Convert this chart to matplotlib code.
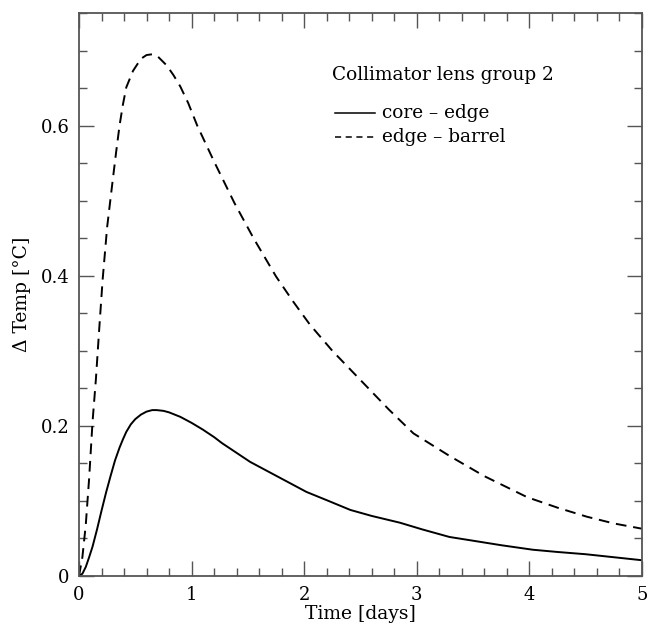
import matplotlib
matplotlib.use("Agg")
import matplotlib.pyplot as plt
from matplotlib.ticker import MultipleLocator, FixedFormatter, FixedLocator

# ---- data ----
time_barrel = [0, 0.03, 0.06, 0.09, 0.12, 0.15, 0.18, 0.21, 0.25, 0.30, 0.33, 0.36,
               0.39, 0.42, 0.48, 0.55, 0.60, 0.65, 0.70, 0.78, 0.84, 0.90, 0.97,
               1.05, 1.20, 1.38, 1.55, 1.75, 1.90, 2.05, 2.25, 2.50, 2.75, 2.97,
               3.29, 3.60, 3.98, 4.25, 4.51, 4.75, 5.00]
edge_barrel = [0, 0.025, 0.068, 0.130, 0.205, 0.262, 0.330, 0.395, 0.465, 0.528, 0.565, 0.600,
               0.628, 0.651, 0.673, 0.689, 0.694, 0.695, 0.692, 0.680, 0.667, 0.652, 0.630,
               0.600, 0.552, 0.497, 0.450, 0.399, 0.366, 0.335, 0.300, 0.261, 0.222, 0.190,
               0.160, 0.133, 0.105, 0.091, 0.079, 0.070, 0.063]

time_core = [0, 0.03, 0.06, 0.09, 0.12, 0.16, 0.20, 0.24, 0.28, 0.32, 0.36, 0.39, 0.42,
             0.46, 0.50, 0.55, 0.60, 0.65, 0.69, 0.75, 0.80, 0.85, 0.90, 1.00, 1.10,
             1.20, 1.27, 1.40, 1.52, 1.77, 2.02, 2.20, 2.41, 2.60, 2.85, 3.05, 3.29,
             3.50, 3.75, 4.03, 4.25, 4.50, 4.75, 5.00]
core_edge = [0, 0.003, 0.012, 0.025, 0.039, 0.062, 0.087, 0.111, 0.133, 0.154, 0.171, 0.182,
             0.192, 0.202, 0.209, 0.215, 0.219, 0.221, 0.221, 0.220, 0.218, 0.215, 0.212,
             0.204, 0.195, 0.185, 0.177, 0.164, 0.152, 0.132, 0.112, 0.101, 0.088, 0.080,
             0.071, 0.062, 0.052, 0.047, 0.041, 0.035, 0.032, 0.029, 0.025, 0.021]

x_ticks = [0, 1, 2, 3, 4, 5]
x_labels = ["0", "1", "2", "3", "4", "5"]
y_ticks = [0, 0.2, 0.4, 0.6]
y_labels = ["0", "0.2", "0.4", "0.6"]

title_text = "Collimator lens group 2"
series_labels = ["core \u2013 edge", "edge \u2013 barrel"]

plt.rcParams['font.family'] = ['DejaVu Serif']

fig = plt.figure(figsize=(6.49, 6.26), dpi=100)
ax = fig.add_axes([79/649, 50/626, 563/649, 563/626])

ax.plot(time_core, core_edge, color='black', lw=1.4, ls='-')
ax.plot(time_barrel, edge_barrel, color='black', lw=1.4, ls=(0, (5.5, 3.5)))

ax.set_xlim(0, 5)
ax.set_ylim(0, 0.75)

ax.xaxis.set_major_locator(FixedLocator(x_ticks))
ax.xaxis.set_major_formatter(FixedFormatter(x_labels))
ax.yaxis.set_major_locator(FixedLocator(y_ticks))
ax.yaxis.set_major_formatter(FixedFormatter(y_labels))
ax.xaxis.set_minor_locator(MultipleLocator(0.2))
ax.yaxis.set_minor_locator(MultipleLocator(0.05))

ax.tick_params(which='both', direction='in', top=True, right=True, color='#555555',
               labelsize=13, width=1.0)
ax.tick_params(which='major', length=11, pad=7)
ax.tick_params(which='minor', length=6)
for s in ax.spines.values():
    s.set_linewidth(1.3)
    s.set_color('#555555')

ax.set_xlabel("Time [days]", fontsize=13.5, labelpad=1)
ax.set_ylabel("\u0394 Temp [\u00b0C]", fontsize=13.5, labelpad=7)

# annotation block (title + legend key)
ax.text(0.450, 0.89, title_text, transform=ax.transAxes, fontsize=13.3,
        va='center', ha='left')
ax.plot([0.455, 0.525], [0.822, 0.822], transform=ax.transAxes, color='black', lw=1.1)
ax.plot([0.455, 0.525], [0.779, 0.779], transform=ax.transAxes, color='black', lw=1.1,
        ls=(0, (4, 3)))
ax.text(0.538, 0.822, series_labels[0], transform=ax.transAxes, fontsize=13.3,
        va='center', ha='left')
ax.text(0.538, 0.779, series_labels[1], transform=ax.transAxes, fontsize=13.3,
        va='center', ha='left')

fig.savefig("out.png", dpi=100)
